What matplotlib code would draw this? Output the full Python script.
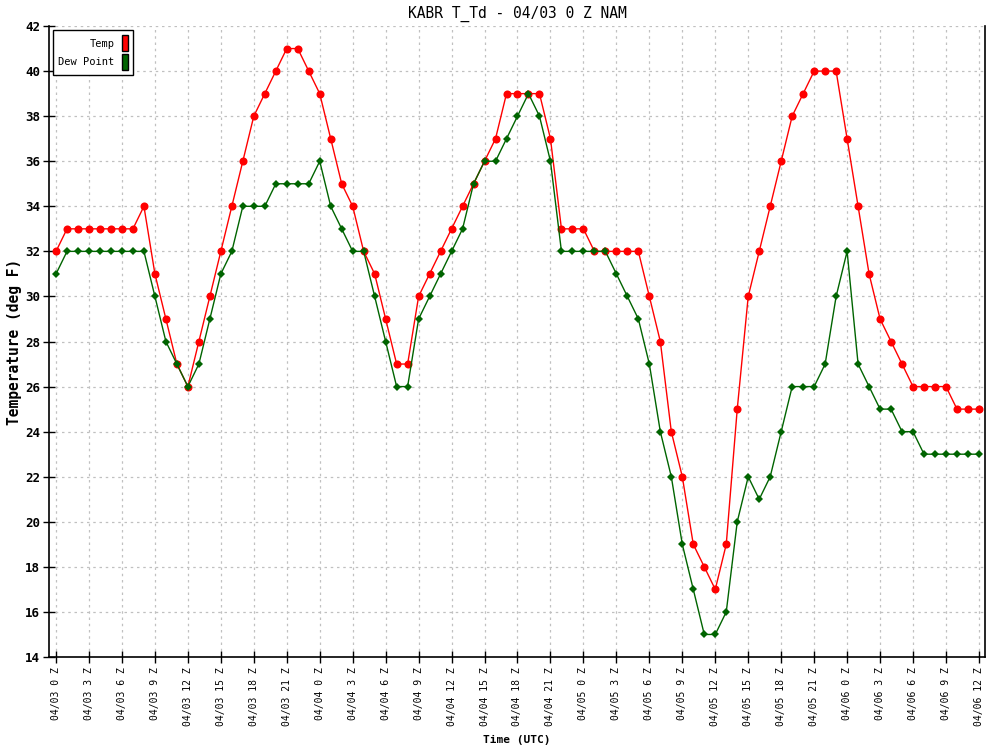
import matplotlib
matplotlib.use('Agg')
import matplotlib.pyplot as plt
from matplotlib.patches import Patch
import numpy as np


# hourly values from 04/03 0Z to 04/06 12Z
hours = list(range(85))

temp = [32, 33, 33, 33, 33, 33, 33, 33, 34, 31, 29, 27, 26, 28, 30, 32, 34, 36, 38, 39,
        40, 41, 41, 40, 39, 37, 35, 34, 32, 31, 29, 27, 27, 30, 31, 32, 33, 34, 35, 36,
        37, 39, 39, 39, 39, 37, 33, 33, 33, 32, 32, 32, 32, 32, 30, 28, 24, 22, 19, 18,
        17, 19, 25, 30, 32, 34, 36, 38, 39, 40, 40, 40, 37, 34, 31, 29, 28, 27, 26, 26,
        26, 26, 25, 25, 25]

dewpoint = [31, 32, 32, 32, 32, 32, 32, 32, 32, 30, 28, 27, 26, 27, 29, 31, 32, 34, 34, 34,
            35, 35, 35, 35, 36, 34, 33, 32, 32, 30, 28, 26, 26, 29, 30, 31, 32, 33, 35, 36,
            36, 37, 38, 39, 38, 36, 32, 32, 32, 32, 32, 31, 30, 29, 27, 24, 22, 19, 17, 15,
            15, 16, 20, 22, 21, 22, 24, 26, 26, 26, 27, 30, 32, 27, 26, 25, 25, 24, 24, 23,
            23, 23, 23, 23, 23]

tickHours = list(range(0, 85, 3))
tickLabels = []
for h in tickHours:
    day = 3 + h // 24
    tickLabels.append('04/%02d %d Z' % (day, h % 24))

mono = 'DejaVu Sans Mono'


def plotTempDew():
    fig = plt.figure(figsize=(10, 7.5), dpi=100)
    ax = fig.add_axes([0.049, 0.124, 0.936, 0.8413])

    ax.plot(hours, temp, color='#ff0000', linewidth=1, marker='o', markersize=5.8,
            markeredgewidth=0, zorder=3)
    ax.plot(hours, dewpoint, color='#006400', linewidth=1, marker='D', markersize=4.2,
            markeredgewidth=0, zorder=4)

    ax.set_xlim(-0.64, 84.55)
    ax.set_ylim(14, 42)
    ax.set_yticks(np.arange(14, 43, 2))
    ax.set_xticks(tickHours)
    ax.set_xticklabels(tickLabels, rotation=90, fontsize=7, family=mono)
    for lab in ax.get_yticklabels():
        lab.set_family(mono)
        lab.set_fontweight('bold')
        lab.set_fontsize(9)

    ax.tick_params(direction='inout', length=9, width=1, pad=3)
    ax.tick_params(axis='y', pad=2)
    ax.spines['top'].set_visible(False)
    for s in ['left', 'bottom', 'right']:
        ax.spines[s].set_linewidth(1.2)

    ax.grid(True, color='#c0c0c0', linestyle=(0, (2, 3)), linewidth=0.9)
    ax.set_axisbelow(True)

    ax.set_title('KABR T_Td - 04/03 0 Z NAM', family=mono, fontsize=10.5, pad=6)
    ax.set_ylabel('Temperature (deg F)', family=mono, fontsize=10.5, fontweight='bold',
                  labelpad=2)
    ax.set_xlabel('Time (UTC)', family=mono, fontsize=8, fontweight='bold', labelpad=6)

    handles = [Patch(facecolor='#ff0000', edgecolor='black', linewidth=1),
               Patch(facecolor='#006400', edgecolor='black', linewidth=1)]
    leg = ax.legend(handles, ['Temp', 'Dew Point'], loc='upper left', markerfirst=False,
                    prop={'family': mono, 'size': 7.5}, handlelength=0.6, handleheight=2.0,
                    handletextpad=0.7, borderpad=0.5, labelspacing=0.25, fancybox=False,
                    framealpha=1, edgecolor='black', borderaxespad=0.4)
    leg.get_frame().set_linewidth(1)
    for t in leg.get_texts():
        t.set_ha('right')

    fig.savefig('out.png', dpi=100)
    plt.close(fig)


if __name__ == '__main__':
    plotTempDew()
